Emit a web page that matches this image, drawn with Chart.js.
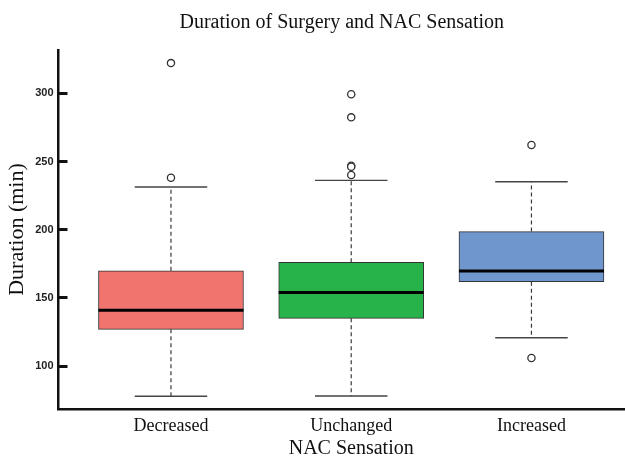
<!DOCTYPE html>
<html>
<head>
<meta charset="utf-8">
<script src="https://cdn.jsdelivr.net/npm/chart.js@4.4.0/dist/chart.umd.min.js"></script>
<style>
  html, body { margin: 0; padding: 0; background: #ffffff; }
  #c { display: block; }
</style>
</head>
<body>
<canvas id="c" width="625" height="458"></canvas>
<script>
// Five-number summaries of surgery duration (minutes) per NAC sensation group
const groups = ['Decreased', 'Unchanged', 'Increased'];
const q1 = [126.9, 135.0, 161.8];
const medians = [140.9, 154.0, 169.7];
const q3 = [169.9, 176.1, 198.6];
const whiskerLow = [77.8, 78.0, 120.8];
const whiskerHigh = [231.3, 236.2, 235.2];
const outliers = [
  [322.2, 238.1],
  [299.3, 282.4, 246.9, 246.2, 240.1],
  [262.1, 105.9]
];
const yTicks = [100, 150, 200, 250, 300];
const boxColors = ['#F2746F', '#27B24A', '#7096CE'];
const xTitle = 'NAC Sensation';

// Build chart data from the arrays above
const boxData = groups.map((g, i) => ({ x: i + 1, y: [q1[i], q3[i]] }));
const outlierData = [];
outliers.forEach((vals, i) => vals.forEach(v => outlierData.push({ x: i + 1, y: v })));

const SERIF = '"Liberation Serif", "Times New Roman", serif';
const SANS = '"Liberation Sans", Arial, sans-serif';

// Whiskers, caps and medians, drawn right after the boxes
const boxPlotParts = {
  id: 'boxPlotParts',
  afterDatasetDraw(chart, args) {
    if (args.index !== 0) return;
    const ctx = chart.ctx;
    const xs = chart.scales.x, ys = chart.scales.y;
    const bars = chart.getDatasetMeta(0).data;
    ctx.save();
    groups.forEach((g, i) => {
      const cx = xs.getPixelForValue(i + 1);
      const half = bars[i].width / 2;
      const capHalf = half / 2;
      const yQ1 = ys.getPixelForValue(q1[i]);
      const yQ3 = ys.getPixelForValue(q3[i]);
      const yLo = ys.getPixelForValue(whiskerLow[i]);
      const yHi = ys.getPixelForValue(whiskerHigh[i]);
      const yMed = ys.getPixelForValue(medians[i]);

      // dashed whiskers
      ctx.strokeStyle = '#3a3a3a';
      ctx.lineWidth = 1.2;
      ctx.setLineDash([4, 3]);
      ctx.beginPath();
      ctx.moveTo(cx, yQ3); ctx.lineTo(cx, yHi);
      ctx.moveTo(cx, yQ1); ctx.lineTo(cx, yLo);
      ctx.stroke();

      // caps
      ctx.setLineDash([]);
      ctx.strokeStyle = '#444444';
      ctx.lineWidth = 1.4;
      ctx.beginPath();
      ctx.moveTo(cx - capHalf, yHi); ctx.lineTo(cx + capHalf, yHi);
      ctx.moveTo(cx - capHalf, yLo); ctx.lineTo(cx + capHalf, yLo);
      ctx.stroke();

      // median
      ctx.strokeStyle = '#000000';
      ctx.lineWidth = 3;
      ctx.beginPath();
      ctx.moveTo(cx - half, yMed); ctx.lineTo(cx + half, yMed);
      ctx.stroke();
    });
    ctx.restore();
  },
  // x axis title centred under the middle group
  afterDraw(chart) {
    const ctx = chart.ctx;
    const xs = chart.scales.x;
    ctx.save();
    ctx.fillStyle = '#111111';
    ctx.font = '20px ' + SERIF;
    ctx.textAlign = 'center';
    ctx.textBaseline = 'middle';
    ctx.fillText(xTitle, xs.getPixelForValue(2), 448.5);
    ctx.restore();
  }
};

new Chart(document.getElementById('c'), {
  type: 'bar',
  data: {
    datasets: [
      {
        type: 'bar',
        data: boxData,
        backgroundColor: boxColors,
        borderColor: '#333333',
        borderWidth: 1,
        borderSkipped: false,
        barThickness: 145,
        order: 2
      },
      {
        type: 'scatter',
        data: outlierData,
        pointStyle: 'circle',
        pointRadius: 3.6,
        pointBackgroundColor: '#ffffff',
        pointBorderColor: '#333333',
        pointBorderWidth: 1.3,
        showLine: false,
        order: 1
      }
    ]
  },
  options: {
    responsive: false,
    animation: false,
    devicePixelRatio: 1,
    layout: { autoPadding: false, padding: { left: 0, right: 0, top: 0, bottom: 0 } },
    plugins: {
      legend: { display: false },
      tooltip: { enabled: false },
      title: {
        display: true,
        fullSize: false,
        text: 'Duration of Surgery and NAC Sensation',
        color: '#111111',
        font: { family: SERIF, size: 20, weight: 'normal', lineHeight: 1.2 },
        padding: { top: 11, bottom: 15 }
      }
    },
    scales: {
      x: {
        type: 'linear',
        offset: false,
        min: 0.376,
        max: 3.519,
        grid: { display: false, drawTicks: false, offset: false },
        border: { display: true, color: '#111111', width: 2.5 },
        afterBuildTicks: (scale) => { scale.ticks = groups.map((g, i) => ({ value: i + 1 })); },
        afterFit: (scale) => { scale.height = 49; },
        ticks: {
          autoSkip: false,
          maxRotation: 0,
          padding: 6,
          color: '#111111',
          font: { family: SERIF, size: 18 },
          callback: (v) => groups[v - 1]
        }
      },
      y: {
        type: 'linear',
        min: 68.5,
        max: 331.8,
        // short tick marks pointing into the plot
        grid: {
          display: true,
          drawOnChartArea: false,
          drawTicks: true,
          tickLength: -9,
          tickWidth: 3,
          tickColor: '#111111'
        },
        border: { display: true, color: '#111111', width: 2.5 },
        afterBuildTicks: (scale) => { scale.ticks = yTicks.map(v => ({ value: v })); },
        afterFit: (scale) => { scale.width = 58.5; },
        ticks: {
          padding: 14,
          color: '#222222',
          font: { family: SANS, size: 11, weight: 'bold' }
        },
        title: {
          display: true,
          text: 'Duration (min)',
          color: '#111111',
          font: { family: SERIF, size: 22, lineHeight: 1.2 },
          padding: { top: 4, bottom: 0 }
        }
      }
    }
  },
  plugins: [boxPlotParts]
});
</script>
</body>
</html>
